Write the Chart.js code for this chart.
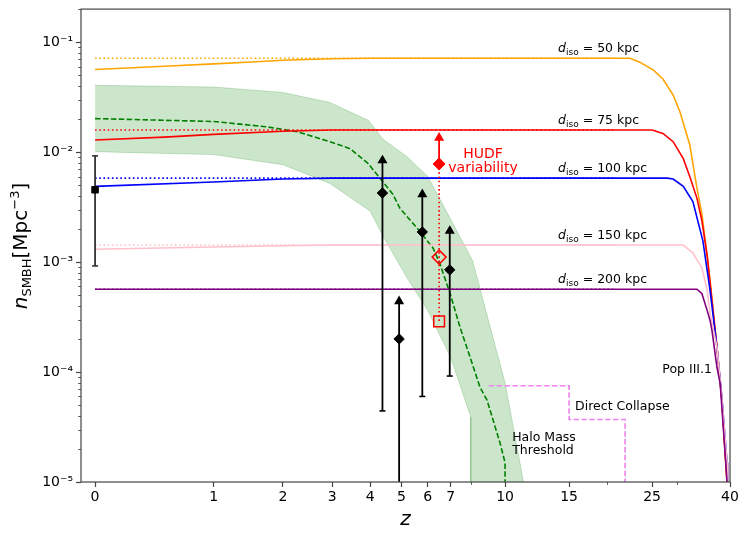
<!DOCTYPE html>
<html>
<head>
<meta charset="utf-8">
<script src="https://cdn.jsdelivr.net/npm/chart.js@4.4.1/dist/chart.umd.min.js"></script>
<style>
html,body{margin:0;padding:0;background:#fff;}
#wrap{width:748px;height:536px;position:relative;}
</style>
</head>
<body>
<div id="wrap"><canvas id="c" width="748" height="536"></canvas></div>
<script>
// ---------------- DATA ----------------
const zMajorTicks = [0, 1, 2, 3, 4, 5, 6, 7, 10, 15, 25, 40];
const zMinorTicks = [8, 19, 29];
const nMajorTicks = [1e-5, 1e-4, 1e-3, 1e-2, 1e-1];

// Pop III.1 model curves, d_iso = 50, 75, 100, 150, 200 kpc (solid)
const z50 = [0, 0.5, 1, 1.5, 2, 3, 4, 21.85, 23.2, 25.2, 26.7, 28.4, 29.6, 31.4, 32.8, 33.8, 35.5, 37.0, 38.1, 39.3, 39.8];
const n50 = [0.0565, 0.0605, 0.0635, 0.066, 0.0685, 0.0708, 0.0714, 0.0714, 0.0658, 0.0557, 0.0463, 0.0331, 0.0232, 0.0117, 0.00468, 0.00272, 6.75e-4, 1.67e-4, 5.5e-5, 1e-5, 5.6e-6];
const z75 = [0, 0.5, 1, 2, 3, 25.0, 26.7, 28.4, 30.2, 31.4, 32.8, 33.8, 34.9, 35.9, 37.0, 38.1, 39.3, 39.8];
const n75 = [0.0129, 0.0137, 0.0145, 0.0155, 0.0159, 0.0159, 0.0148, 0.01245, 0.00873, 0.0060, 0.0038, 0.00236, 0.00113, 4.45e-4, 1.67e-4, 5.5e-5, 1e-5, 5.6e-6];
const z100 = [0, 1, 2, 3, 27.4, 28.4, 30.2, 32.0, 34.0, 35.5, 37.0, 38.1, 39.3, 39.5, 39.9];
const n100 = [0.00488, 0.00535, 0.0057, 0.0058, 0.0058, 0.0057, 0.00488, 0.00356, 0.00155, 5.47e-4, 1.67e-4, 5.9e-5, 1.5e-5, 1e-5, 5e-6];
const z150 = [0, 1, 2, 3, 30.2, 32.0, 33.8, 34.9, 35.5, 37.0, 38.1, 39.3, 39.5, 39.9];
const n150 = [0.00131, 0.00137, 0.00141, 0.00143, 0.00143, 0.00121, 8.85e-4, 5.47e-4, 3.4e-4, 1.67e-4, 5.9e-5, 1.5e-5, 1e-5, 5e-6];
const z200 = [0, 32.8, 33.8, 34.9, 35.5, 35.9, 37.0, 37.7, 38.1, 39.3, 39.8];
const n200 = [5.67e-4, 5.67e-4, 5.15e-4, 3.6e-4, 2.93e-4, 2.38e-4, 1.1e-4, 7.9e-5, 4.8e-5, 1e-5, 5e-6];

// dotted (constant) levels for each d_iso
const zDotted = [0, 20];
const nDotted50 = [0.0714, 0.0714];
const nDotted75 = [0.0159, 0.0159];
const nDotted100 = [0.0058, 0.0058];
const nDotted150 = [0.00143, 0.00143];
const nDotted200 = [5.67e-4, 5.67e-4];

// Halo mass threshold (green dashed) and its band
const zHalo = [0, 1, 1.73, 2.26, 2.95, 3.44, 3.94, 4.30, 4.71, 4.95, 5.58, 6.22, 6.52, 6.98, 7.46, 7.97, 8.5, 8.9, 9.68, 10, 10];
const nHalo = [0.0202, 0.019, 0.017, 0.01535, 0.01245, 0.01076, 0.00787, 0.00575, 0.00413, 0.00308, 0.00203, 0.00134, 9.6e-4, 5.15e-4, 2.53e-4, 1.36e-4, 7.28e-5, 5.55e-5, 2.27e-5, 1.5e-5, 5e-6];
const zBandHi = [0, 1, 2, 2.95, 3.94, 4.39, 5.2, 6.0, 6.52, 8.1, 9.25, 10, 11, 12];
const nBandHi = [0.0405, 0.0391, 0.0349, 0.0283, 0.0195, 0.0131, 0.0091, 0.0060, 0.00372, 1.03e-3, 2.06e-4, 8e-5, 1.5e-5, 3e-6];
const zBandLo = [0, 1, 2, 2.95, 4, 4.39, 5.2, 6, 7, 8, 8, 12];
const nBandLo = [0.0101, 0.0095, 0.0077, 0.00519, 0.0029, 0.00172, 7.2e-4, 3.63e-4, 1.36e-4, 3.92e-5, 1e-7, 1e-7];

// Direct collapse (violet dashed step)
const zDC = [9, 15, 15, 21.2, 21.2];
const nDC = [7.5e-5, 7.5e-5, 3.7e-5, 3.7e-5, 1e-7];

// Observations: local (z=0) point with error bar
const zLocal = [0];
const nLocal = [0.00455];
const nLocalLo = [9.23e-4];
const nLocalHi = [0.00925];

// High-z AGN lower limits (diamonds with upward arrows)
const zObs = [4.37, 4.92, 5.78, 6.96];
const nObs = [0.00425, 2.0e-4, 0.00188, 8.5e-4];
const nObsLo = [4.43e-5, 1e-7, 6.0e-5, 9.2e-5];
const nObsHi = [0.0084, 4.39e-4, 0.00413, 0.00192];
const obsLoCap = [true, false, true, true];

// HUDF variability
const zHUDF = [6.48];
const nHUDF = [0.00782];
const nHUDFHi = [0.0135];
const nHUDFOpen = [1.11e-3];
const nHUDFSquare = [2.89e-4];

// ---------------- HELPERS ----------------
const FONT = "'DejaVu Sans', 'Liberation Sans', sans-serif";
const pts = (zs, ns) => zs.map((z, i) => ({x: 1 + z, y: ns[i]}));
const SUP = {'-': '\u207B', '0': '\u2070', '1': '\u00B9', '2': '\u00B2', '3': '\u00B3', '4': '\u2074', '5': '\u2075', '6': '\u2076', '7': '\u2077', '8': '\u2078', '9': '\u2079'};
const sup = s => String(s).split('').map(c => SUP[c] || c).join('');

function lineDS(data, color, opts) {
  return Object.assign({
    data, borderColor: color, backgroundColor: color, borderWidth: 1.6,
    pointRadius: 0, tension: 0, fill: false
  }, opts || {});
}

function errDS(z, lo, hi, capLo, arrowHi, capHi, color, order) {
  return {
    data: [{x: 1 + z, y: lo}, {x: 1 + z, y: hi}],
    borderColor: color, backgroundColor: color, borderWidth: 1.8, tension: 0, fill: false,
    pointStyle: ['line', arrowHi ? 'triangle' : 'line'],
    pointRadius: [capLo ? 3 : 0, arrowHi ? 4.2 : (capHi ? 3 : 0)],
    pointBorderWidth: 1.6, pointBorderColor: color, pointBackgroundColor: color,
    order
  };
}

const datasets = [];
// markers (top)
datasets.push({data: pts(zObs, nObs), showLine: false, pointStyle: 'rectRot', pointRadius: 5.2, pointBackgroundColor: '#000', pointBorderColor: '#000', borderColor: '#000', order: 1});
datasets.push({data: pts(zLocal, nLocal), showLine: false, pointStyle: 'rect', pointRadius: 4.6, pointBackgroundColor: '#000', pointBorderColor: '#000', borderColor: '#000', order: 1});
datasets.push({data: pts(zHUDF, nHUDF), showLine: false, pointStyle: 'rectRot', pointRadius: 6, pointBackgroundColor: '#ff0000', pointBorderColor: '#ff0000', borderColor: '#ff0000', order: 1});
datasets.push({data: pts(zHUDF, nHUDFOpen), showLine: false, pointStyle: 'rectRot', pointRadius: 7, pointBackgroundColor: 'rgba(0,0,0,0)', pointBorderColor: '#ff0000', pointBorderWidth: 1.5, borderColor: '#ff0000', order: 1});
datasets.push({data: pts(zHUDF, nHUDFSquare), showLine: false, pointStyle: 'rect', pointRadius: 7.6, pointBackgroundColor: 'rgba(0,0,0,0)', pointBorderColor: '#ff0000', pointBorderWidth: 1.5, borderColor: '#ff0000', order: 1});
// error bars
datasets.push(errDS(zLocal[0], nLocalLo[0], nLocalHi[0], true, false, true, '#333', 3));
zObs.forEach((z, i) => datasets.push(errDS(z, nObsLo[i], nObsHi[i], obsLoCap[i], true, false, '#000', 3)));
datasets.push(errDS(zHUDF[0], nHUDF[0], nHUDFHi[0], false, true, false, '#ff0000', 3));
datasets.push(lineDS([{x: 1 + zHUDF[0], y: nHUDF[0]}, {x: 1 + zHUDF[0], y: nHUDFSquare[0]}], '#ff0000', {borderDash: [1.6, 2.6], borderWidth: 1.6, order: 4}));
// solid model curves
datasets.push(lineDS(pts(z200, n200), '#800080', {order: 6}));
datasets.push(lineDS(pts(z150, n150), '#ffc0cb', {order: 6}));
datasets.push(lineDS(pts(z100, n100), '#0000ff', {order: 6}));
datasets.push(lineDS(pts(z75, n75), '#ff0000', {order: 6}));
datasets.push(lineDS(pts(z50, n50), '#ffa500', {order: 6}));
// dotted levels
const dot = [1.6, 2.6];
datasets.push(lineDS(pts(zDotted, nDotted50), '#ffa500', {borderDash: dot, order: 7}));
datasets.push(lineDS(pts(zDotted, nDotted75), '#ff0000', {borderDash: dot, order: 7}));
datasets.push(lineDS(pts(zDotted, nDotted100), '#0000ff', {borderDash: dot, order: 7}));
datasets.push(lineDS(pts(zDotted, nDotted150), '#ffc0cb', {borderDash: dot, order: 7}));
datasets.push(lineDS(pts(zDotted, nDotted200), '#800080', {borderDash: dot, order: 7}));
// direct collapse
datasets.push(lineDS(pts(zDC, nDC), '#ee82ee', {borderDash: [5.5, 2.4], borderWidth: 1.6, order: 7}));
// halo threshold
datasets.push(lineDS(pts(zHalo, nHalo), '#008000', {borderDash: [5.5, 2.4], borderWidth: 1.6, order: 8}));
// band (upper fills to next = lower)
datasets.push(lineDS(pts(zBandHi, nBandHi), 'rgba(0,128,0,0.2)', {borderWidth: 1, fill: '+1', backgroundColor: 'rgba(0,128,0,0.2)', order: 9}));
datasets.push(lineDS(pts(zBandLo, nBandLo), 'rgba(0,128,0,0.2)', {borderWidth: 1, order: 9}));

// ---------------- ANNOTATIONS ----------------
const dIsoLabels = [
  {kpc: '50', z: 14.0, n: 0.0714},
  {kpc: '75', z: 14.0, n: 0.0159},
  {kpc: '100', z: 14.0, n: 0.0058},
  {kpc: '150', z: 14.0, n: 0.00143},
  {kpc: '200', z: 14.0, n: 5.67e-4}
];
const textLabels = [
  {t: 'Pop III.1', z: 35.9, n: 9.8e-5, align: 'right', color: '#000', size: 12.5},
  {t: 'Direct Collapse', z: 15.57, n: 4.5e-5, align: 'left', color: '#000', size: 12.5},
  {t: 'Halo Mass', z: 10.47, n: 2.38e-5, align: 'left', color: '#000', size: 12.5},
  {t: 'Threshold', z: 10.47, n: 1.8e-5, align: 'left', color: '#000', size: 12.5},
  {t: 'HUDF', z: 8.67, n: 0.00879, align: 'center', color: '#ff0000', size: 14},
  {t: 'variability', z: 8.67, n: 0.00653, align: 'center', color: '#ff0000', size: 14}
];

function drawRich(ctx, parts, x, y, align) {
  let total = 0;
  parts.forEach(p => {
    ctx.font = (p.italic ? 'italic ' : '') + p.size + 'px ' + FONT;
    p.w = ctx.measureText(p.t).width; total += p.w;
  });
  let cx = align === 'center' ? x - total / 2 : (align === 'right' ? x - total : x);
  ctx.textAlign = 'left'; ctx.textBaseline = 'alphabetic';
  parts.forEach(p => {
    ctx.font = (p.italic ? 'italic ' : '') + p.size + 'px ' + FONT;
    ctx.fillText(p.t, cx, y + (p.dy || 0));
    cx += p.w;
  });
}

const decor = {
  id: 'decor',
  afterDatasetsDraw(chart) {
    const {ctx, chartArea: a, scales: {x, y}} = chart;
    ctx.save();
    // frame
    ctx.strokeStyle = '#444'; ctx.lineWidth = 1.2;
    ctx.strokeRect(a.left, a.top, a.right - a.left, a.bottom - a.top);
    // minor ticks
    ctx.lineWidth = 0.9;
    ctx.beginPath();
    for (let e = -5; e <= -1; e++) {
      for (let k = 2; k <= 9; k++) {
        const v = k * Math.pow(10, e);
        if (v > y.max) continue;
        const py = Math.round(y.getPixelForValue(v)) + 0.5;
        ctx.moveTo(a.left, py); ctx.lineTo(a.left - 2.8, py);
      }
    }
    zMinorTicks.forEach(z => {
      const px = Math.round(x.getPixelForValue(1 + z)) + 0.5;
      ctx.moveTo(px, a.bottom); ctx.lineTo(px, a.bottom + 2.8);
    });
    ctx.stroke();
    // d_iso labels
    ctx.fillStyle = '#000';
    dIsoLabels.forEach(L => {
      const px = x.getPixelForValue(1 + L.z), py = y.getPixelForValue(L.n) - 6;
      drawRich(ctx, [
        {t: 'd', size: 12.5, italic: true},
        {t: 'iso', size: 9, dy: 2.8},
        {t: ' = ' + L.kpc + ' kpc', size: 12.5}
      ], px, py, 'left');
    });
    textLabels.forEach(L => {
      ctx.fillStyle = L.color;
      drawRich(ctx, [{t: L.t, size: L.size}], x.getPixelForValue(1 + L.z), y.getPixelForValue(L.n), L.align);
    });
    // axis titles
    ctx.fillStyle = '#000';
    drawRich(ctx, [{t: 'z', size: 20, italic: true}], (a.left + a.right) / 2, 525, 'center');
    ctx.translate(27, 246);
    ctx.rotate(-Math.PI / 2);
    drawRich(ctx, [
      {t: 'n', size: 20, italic: true},
      {t: 'SMBH', size: 13, dy: 3.5},
      {t: '[Mpc', size: 20},
      {t: '\u22123', size: 13, dy: -8},
      {t: ']', size: 20}
    ], 0, 0, 'center');
    ctx.restore();
  }
};

new Chart(document.getElementById('c'), {
  type: 'line',
  data: {datasets},
  options: {
    responsive: false,
    animation: false,
    events: [],
    layout: {padding: {top: 7, right: 18, left: 0, bottom: 0}},
    plugins: {legend: {display: false}, tooltip: {enabled: false}},
    scales: {
      x: {
        type: 'logarithmic', min: 0.921, max: 41,
        afterBuildTicks: s => { s.ticks = zMajorTicks.map(z => ({value: 1 + z})); },
        afterFit: s => { s.height = 54; s.paddingLeft = 0; s.paddingRight = 0; },
        ticks: {autoSkip: false, maxRotation: 0, padding: 2, color: '#000', font: {family: FONT, size: 14},
          callback: v => String(Math.round(v - 1))},
        grid: {drawOnChartArea: false, drawTicks: true, tickLength: 5, tickColor: '#444', tickWidth: 1.2},
        border: {display: false}
      },
      y: {
        type: 'logarithmic', min: 1e-5, max: 0.2,
        afterBuildTicks: s => { s.ticks = nMajorTicks.map(v => ({value: v})); },
        afterFit: s => { s.width = 81; s.paddingTop = 0; s.paddingBottom = 0; },
        ticks: {autoSkip: false, padding: 3, color: '#000', font: {family: FONT, size: 14},
          callback: v => '10' + sup(Math.round(Math.log10(v)))},
        grid: {drawOnChartArea: false, drawTicks: true, tickLength: 5, tickColor: '#444', tickWidth: 1.2},
        border: {display: false}
      }
    }
  },
  plugins: [decor]
});
</script>
</body>
</html>
